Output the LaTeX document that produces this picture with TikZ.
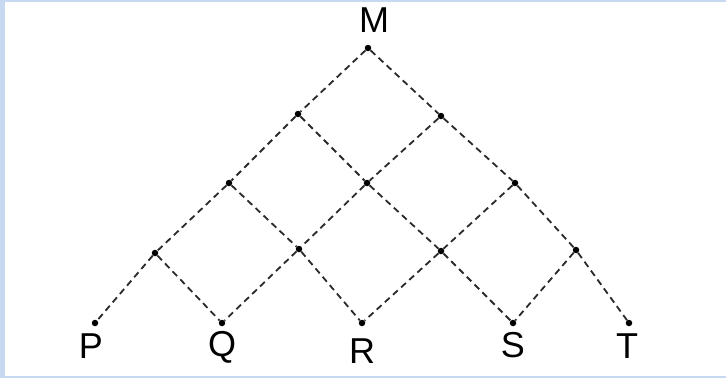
\documentclass[tikz,border=0pt]{standalone}
\usepackage{fontspec}
\setmainfont{Liberation Sans}
\definecolor{frameblue}{HTML}{C6D9F1}
\definecolor{lat}{HTML}{2A2A2A}
\begin{document}
\begin{tikzpicture}[x=1pt,y=-1pt,
  pt/.style={circle,fill=black,inner sep=0pt,minimum size=6.5pt},
  edge/.style={draw=lat,line width=1.8pt,dash pattern=on 6.5pt off 4.5pt},
  lbl/.style={font=\fontsize{36}{36}\selectfont,inner sep=0pt}]
\useasboundingbox (0,0) rectangle (726,378);
\fill[frameblue] (0,0) rectangle (726,378);
\fill[white] (5,2) rectangle (726,376);
% lattice points
\node[pt] (m) at (368,48) {};
\node[pt] (a1) at (298,114) {};
\node[pt] (a2) at (441,116) {};
\node[pt] (b1) at (229,183) {};
\node[pt] (b2) at (367,183) {};
\node[pt] (b3) at (515,183) {};
\node[pt] (c1) at (155,253) {};
\node[pt] (c2) at (299,249) {};
\node[pt] (c3) at (441,251) {};
\node[pt] (c4) at (576,250) {};
\node[pt] (p) at (95,323) {};
\node[pt] (q) at (222,323) {};
\node[pt] (r) at (362,323) {};
\node[pt] (s) at (513,323) {};
\node[pt] (t) at (629,323) {};
% connectors
\path[edge] (m) -- (a1) (m) -- (a2)
  (a1) -- (b1) (a1) -- (b2) (a2) -- (b2) (a2) -- (b3)
  (b1) -- (c1) (b1) -- (c2) (b2) -- (c2) (b2) -- (c3) (b3) -- (c3) (b3) -- (c4)
  (c1) -- (p) (c1) -- (q) (c2) -- (q) (c2) -- (r) (c3) -- (r) (c3) -- (s) (c4) -- (s) (c4) -- (t);
% labels
\node[lbl] (lm) at (374,20) {M};
\node[lbl] (lp) at (91,346) {P};
\node[lbl] (lq) at (222,347) {Q};
\node[lbl] (lr) at (362,351) {R};
\node[lbl] (ls) at (513,345) {S};
\node[lbl] (lt) at (627,346) {T};
\end{tikzpicture}
\end{document}
